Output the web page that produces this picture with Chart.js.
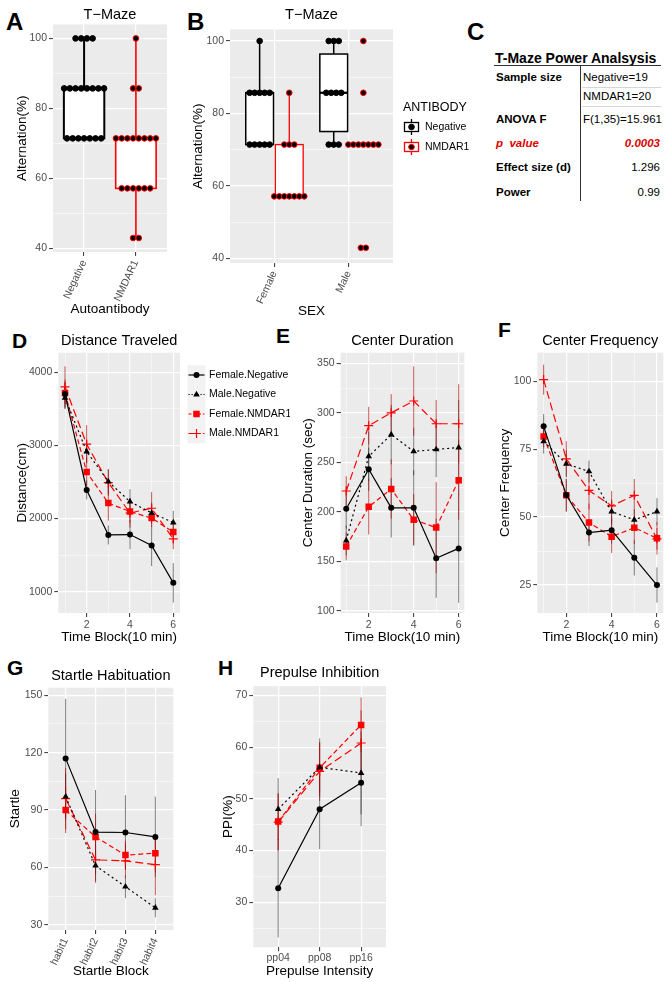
<!DOCTYPE html>
<html>
<head>
<meta charset="utf-8">
<title>Behaviour panels</title>
<script src="https://cdn.jsdelivr.net/npm/chart.js"></script>
<style>
  body { margin: 0; background: #fff; width: 670px; height: 982px; position: relative; overflow: hidden;
         font-family: "Liberation Sans", Arial, sans-serif; }
  canvas { position: absolute; }
  .letter { position: absolute; font-weight: bold; line-height: 1; color: #000; }
  .tc { position: absolute; white-space: nowrap; line-height: 1; color: #000; }
  .b { font-weight: bold; }
  .red { color: #e00000; font-style: italic; font-weight: bold; }
  .ln { position: absolute; background: #333; }
</style>
</head>
<body>
<div class="letter" style="left:6px;top:10px;font-size:24px">A</div>
<div class="letter" style="left:187px;top:10px;font-size:24px">B</div>
<div class="letter" style="left:467px;top:20px;font-size:24px">C</div>
<div class="letter" style="left:12px;top:330px;font-size:21px">D</div>
<div class="letter" style="left:276px;top:325px;font-size:21px">E</div>
<div class="letter" style="left:498px;top:319px;font-size:21px">F</div>
<div class="letter" style="left:7px;top:657px;font-size:21px">G</div>
<div class="letter" style="left:218px;top:657px;font-size:21px">H</div>

<canvas id="cA" width="175" height="320" style="left:0;top:0"></canvas>
<canvas id="cB" width="300" height="320" style="left:180px;top:0"></canvas>
<canvas id="cD" width="290" height="323" style="left:0;top:325px"></canvas>
<canvas id="cE" width="180" height="323" style="left:290px;top:325px"></canvas>
<canvas id="cF" width="200" height="323" style="left:470px;top:325px"></canvas>
<canvas id="cG" width="200" height="332" style="left:0;top:650px"></canvas>
<canvas id="cH" width="200" height="332" style="left:205px;top:650px"></canvas>

<div id="tableC"></div>

<script>
// ---------- DATA ----------

// T-Maze alternation (%), one value per animal
const antibodyCats = ['Negative', 'NMDAR1'];
const aNegVals = [100, 100, 100, 100,
    85.7, 85.7, 85.7, 85.7, 85.7, 85.7, 85.7, 85.7,
    71.4, 71.4, 71.4, 71.4, 71.4, 71.4, 71.4];
const aNmdaVals = [100, 85.7, 85.7,
    71.4, 71.4, 71.4, 71.4, 71.4, 71.4, 71.4, 71.4,
    57.1, 57.1, 57.1, 57.1, 57.1, 57.1, 42.9, 42.9];
// box stats: [lower whisker, q1, median, q3, upper whisker]
const aNegBox = [71.4, 71.4, 85.7, 85.7, 100];
const aNmdaBox = [42.9, 57.1, 71.4, 71.4, 100];

const sexCats = ['Female', 'Male'];
const bFemNegVals = [100, 85.7, 85.7, 85.7, 85.7, 85.7, 71.4, 71.4, 71.4, 71.4, 71.4];
const bFemNmdaVals = [85.7, 71.4, 71.4, 71.4, 57.1, 57.1, 57.1, 57.1, 57.1, 57.1, 57.1];
const bMaleNegVals = [100, 100, 100, 85.7, 85.7, 85.7, 85.7, 71.4, 71.4, 71.4];
const bMaleNmdaVals = [100, 85.7, 71.4, 71.4, 71.4, 71.4, 71.4, 71.4, 71.4, 42.9, 42.9];
const bFemNegBox = [71.4, 71.4, 85.7, 85.7, 100];
const bFemNmdaBox = [57.1, 57.1, 57.1, 71.4, 85.7];
const bMaleNegBox = [71.4, 75.0, 85.7, 96.4, 100];
const bMaleNmdaBox = [71.4, 71.4, 71.4, 71.4, 71.4];

// power analysis table
const powerRows = [
    ['Sample size', 'Negative=19'],
    ['', 'NMDAR1=20'],
    ['ANOVA F', 'F(1,35)=15.961'],
    ['p value', '0.0003'],
    ['Effect size (d)', '1.296'],
    ['Power', '0.99']
];

const groupNames = ['Female.Negative', 'Male.Negative', 'Female.NMDAR1', 'Male.NMDAR1'];
const timeBlocks = [1, 2, 3, 4, 5, 6];

// D: distance traveled (cm), mean and error
const distFemNeg = [3700, 2390, 1775, 1780, 1630, 1120];
const distMaleNeg = [3650, 2915, 2505, 2230, 2075, 1945];
const distFemNmda = [3715, 2635, 2210, 2095, 2005, 1815];
const distMaleNmda = [3800, 3015, 2490, 2075, 2140, 1720];
const distFemNegErr = [200, 130, 130, 200, 280, 270];
const distMaleNegErr = [150, 150, 170, 170, 140, 160];
const distFemNmdaErr = [150, 200, 240, 150, 120, 150];
const distMaleNmdaErr = [280, 260, 180, 200, 220, 140];

// E: center duration (sec)
const durFemNeg = [203, 243, 204, 204, 153, 163];
const durMaleNeg = [171, 256, 278, 261, 263, 265];
const durFemNmda = [165, 205, 223, 192, 184, 232];
const durMaleNmda = [221, 287, 300, 312, 289, 289];
const durFemNegErr = [20, 22, 30, 38, 40, 55];
const durMaleNegErr = [15, 25, 30, 24, 28, 48];
const durFemNmdaErr = [14, 28, 30, 26, 46, 40];
const durMaleNmdaErr = [15, 19, 19, 35, 24, 40];

// F: center frequency
const freqFemNeg = [83.4, 58.1, 44.3, 45.2, 35, 25];
const freqMaleNeg = [77.9, 69.6, 66.8, 52, 49, 52];
const freqFemNmda = [79.7, 58, 48, 42.8, 46.1, 42.2];
const freqMaleNmda = [100.6, 71.4, 59.8, 54.1, 58, 42];
const freqFemNegErr = [4.5, 6, 5, 5, 6.5, 6.5];
const freqMaleNegErr = [4.5, 5, 4, 4.5, 4, 5];
const freqFemNmdaErr = [4, 6, 7, 6, 6, 6];
const freqMaleNmdaErr = [5.5, 6.5, 7, 5.5, 6, 4];

// G: startle habituation
const habitLabels = ['habit1', 'habit2', 'habit3', 'habit4'];
const startFemNeg = [117, 78.5, 78.3, 76];
const startMaleNeg = [97, 61, 50, 39];
const startFemNmda = [90, 76, 66.5, 67.5];
const startMaleNmda = [96, 64, 63.5, 61.5];
const startFemNegErr = [31, 22, 19.5, 21];
const startMaleNegErr = [12, 8, 6, 5];
const startFemNmdaErr = [12, 12, 7.5, 10];
const startMaleNmdaErr = [16, 12, 9, 16];

// H: prepulse inhibition (%)
const ppLabels = ['pp04', 'pp08', 'pp16'];
const ppiFemNeg = [32.7, 48, 53.1];
const ppiMaleNeg = [48, 56.1, 55];
const ppiFemNmda = [45.6, 56, 64.3];
const ppiMaleNmda = [45.5, 55.3, 60.8];
const ppiFemNegErr = [9.5, 7.7, 8.4];
const ppiMaleNegErr = [6, 5.6, 8];
const ppiFemNmdaErr = [5.5, 4.8, 5.3];
const ppiMaleNmdaErr = [5.5, 5.7, 6.3];

// ---------- STYLE ----------

const FONT = '"Liberation Sans", Arial, sans-serif';
const RED = '#ff0000';
const groupStyle = [
    { color: '#000', dash: [], point: 'circle', r: 3, err: 'rgba(0,0,0,0.5)' },
    { color: '#000', dash: [2, 3], point: 'triangle', r: 3.8, err: 'rgba(0,0,0,0.5)' },
    { color: RED, dash: [5, 3], point: 'rect', r: 4.6, err: 'rgba(175,0,0,0.65)' },
    { color: RED, dash: [8, 4], point: 'cross', r: 4.5, err: 'rgba(175,0,0,0.65)' }
];

// ---------- HELPERS ----------

function makeAxis(o) {
    const ax = {
        type: 'linear',
        min: o.min,
        max: o.max,
        bounds: 'data',
        afterBuildTicks: s => {
            const majors = o.majors.map(v => ({ value: v }));
            const minors = (o.minors || []).map(v => ({ value: v, minor: true }));
            s.ticks = majors.concat(minors).sort((a, b) => a.value - b.value);
        },
        ticks: {
            autoSkip: false,
            color: '#4d4d4d',
            font: { family: FONT, size: 10.5 },
            padding: o.tickPad != null ? o.tickPad : 2,
            minRotation: o.rotation || 0,
            maxRotation: o.rotation || 0,
            callback: function (v, i, ticks) {
                if (ticks[i].minor) return '';
                return o.labels ? o.labels[Math.round(v) - 1] : v;
            }
        },
        grid: {
            color: '#fff',
            lineWidth: c => (c.tick && c.tick.minor ? 0.5 : 1.2),
            tickColor: c => (c.tick && c.tick.minor ? 'rgba(0,0,0,0)' : '#333'),
            tickLength: 4,
            tickWidth: 1
        },
        border: { display: false },
        title: {
            display: true,
            text: o.title,
            color: '#000',
            font: { family: FONT, size: 13.5 },
            padding: o.titlePad
        }
    };
    if (o.width != null) ax.afterFit = s => { s.width = o.width; };
    if (o.height != null) ax.afterFit = s => { s.height = o.height; };
    return ax;
}

function makeTitle(text, top, bottom) {
    return {
        display: true,
        text: text,
        color: '#000',
        fullSize: false,
        font: { family: FONT, size: 14.5, weight: 'normal' },
        padding: { top: top, bottom: bottom }
    };
}

// grey ggplot panel behind the grid
const panelBg = {
    id: 'panelBg',
    beforeDraw(chart) {
        const { ctx, chartArea: a } = chart;
        ctx.save();
        ctx.fillStyle = '#ebebeb';
        ctx.fillRect(a.left, a.top, a.right - a.left, a.bottom - a.top);
        ctx.restore();
    }
};

// vertical error bars from dataset.errors
const errorBars = {
    id: 'errorBars',
    beforeDatasetsDraw(chart) {
        const { ctx, scales: { x, y } } = chart;
        ctx.save();
        ctx.lineWidth = 1;
        chart.data.datasets.forEach(ds => {
            if (!ds.errors) return;
            ctx.strokeStyle = ds.errColor;
            ds.data.forEach((p, i) => {
                const px = x.getPixelForValue(p.x);
                ctx.beginPath();
                ctx.moveTo(px, y.getPixelForValue(p.y - ds.errors[i]));
                ctx.lineTo(px, y.getPixelForValue(p.y + ds.errors[i]));
                ctx.stroke();
            });
        });
        ctx.restore();
    }
};

function makeBoxPlugin(items) {
    return {
        id: 'boxes',
        beforeDatasetsDraw(chart) {
            const { ctx, scales: { x, y } } = chart;
            items.forEach(b => {
                const [lo, q1, med, q3, hi] = b.stats;
                const xc = x.getPixelForValue(b.x);
                const xl = x.getPixelForValue(b.x - b.w / 2);
                const xr = x.getPixelForValue(b.x + b.w / 2);
                const top = y.getPixelForValue(q3);
                const bot = y.getPixelForValue(q1);
                ctx.save();
                ctx.strokeStyle = b.color;
                ctx.lineWidth = b.lw;
                ctx.beginPath();
                ctx.moveTo(xc, y.getPixelForValue(hi));
                ctx.lineTo(xc, top);
                ctx.moveTo(xc, bot);
                ctx.lineTo(xc, y.getPixelForValue(lo));
                ctx.stroke();
                ctx.fillStyle = '#fff';
                ctx.fillRect(xl, top, xr - xl, bot - top);
                ctx.strokeRect(xl, top, xr - xl, bot - top);
                ctx.lineWidth = b.lw * 1.5;
                ctx.beginPath();
                ctx.moveTo(xl, y.getPixelForValue(med));
                ctx.lineTo(xr, y.getPixelForValue(med));
                ctx.stroke();
                ctx.restore();
            });
        }
    };
}

// dot plot: equal values side by side, centred on the group position
function dotRows(values, center, spacing) {
    const counts = {};
    values.forEach(v => { counts[v] = (counts[v] || 0) + 1; });
    const seen = {};
    return values.map(v => {
        const k = seen[v] = (seen[v] || 0) + 1;
        return { x: center + (k - 1 - (counts[v] - 1) / 2) * spacing, y: v };
    });
}

function drawMarker(ctx, style, x, y, r, color) {
    ctx.save();
    ctx.fillStyle = color;
    ctx.strokeStyle = color;
    ctx.lineWidth = 1.2;
    ctx.beginPath();
    if (style === 'circle') {
        ctx.arc(x, y, r, 0, Math.PI * 2);
        ctx.fill();
    } else if (style === 'triangle') {
        ctx.moveTo(x, y - r);
        ctx.lineTo(x + r * 0.866, y + r / 2);
        ctx.lineTo(x - r * 0.866, y + r / 2);
        ctx.closePath();
        ctx.fill();
    } else if (style === 'rect') {
        const s = r * Math.SQRT1_2;
        ctx.fillRect(x - s, y - s, 2 * s, 2 * s);
    } else {
        ctx.moveTo(x - r, y); ctx.lineTo(x + r, y);
        ctx.moveTo(x, y - r); ctx.lineTo(x, y + r);
        ctx.stroke();
    }
    ctx.restore();
}

function dotDataset(points, edge) {
    return {
        data: points,
        pointRadius: 2.8,
        pointBackgroundColor: '#000',
        pointBorderColor: edge,
        pointBorderWidth: 1
    };
}

function seriesDatasets(xs, series, errs) {
    return series.map((ys, g) => ({
        label: groupNames[g],
        data: xs.map((x, i) => ({ x: x, y: ys[i] })),
        errors: errs[g],
        errColor: groupStyle[g].err,
        borderColor: groupStyle[g].color,
        borderWidth: 1.2,
        borderDash: groupStyle[g].dash,
        pointStyle: groupStyle[g].point,
        pointRadius: groupStyle[g].r,
        pointBackgroundColor: groupStyle[g].color,
        pointBorderColor: groupStyle[g].color,
        pointBorderWidth: groupStyle[g].point === 'cross' ? 1.2 : 0,
        fill: false,
        tension: 0
    }));
}

function baseOptions(pad, title, xAxis, yAxis) {
    return {
        responsive: false,
        animation: false,
        layout: { padding: pad },
        plugins: { legend: { display: false }, tooltip: { enabled: false }, title: title },
        scales: { x: xAxis, y: yAxis }
    };
}

// ---------- A: T-Maze by antibody ----------

new Chart(document.getElementById('cA'), {
    type: 'scatter',
    data: {
        datasets: [
            dotDataset(dotRows(aNegVals, 1, 0.11), '#000'),
            dotDataset(dotRows(aNmdaVals, 2, 0.11), RED)
        ]
    },
    options: baseOptions(
        { left: 0, right: 8, top: 0, bottom: 0 },
        makeTitle('T\u2212Maze', 6, 1),
        makeAxis({ min: 0.4, max: 2.6, majors: [1, 2], labels: antibodyCats, rotation: 65,
                   height: 68, title: 'Autoantibody', titlePad: { top: 0, bottom: 2.2 } }),
        makeAxis({ min: 38.9, max: 104, majors: [40, 60, 80, 100], minors: [50, 70, 90],
                   width: 53, title: 'Alternation(%)', titlePad: { top: 13.9, bottom: 0 } })
    ),
    plugins: [panelBg, makeBoxPlugin([
        { x: 1, w: 0.78, stats: aNegBox, color: '#000', lw: 2 },
        { x: 2, w: 0.78, stats: aNmdaBox, color: RED, lw: 1.6 }
    ])]
});

// ---------- B: T-Maze by sex ----------

const antibodyLegend = {
    id: 'antibodyLegend',
    afterDraw(chart) {
        const ctx = chart.ctx;
        ctx.save();
        ctx.fillStyle = '#000';
        ctx.textBaseline = 'middle';
        ctx.font = '12.5px ' + FONT;
        ctx.fillText('ANTIBODY', 223, 108);
        ctx.font = '10.5px ' + FONT;
        [['Negative', '#000', 127], ['NMDAR1', RED, 147]].forEach(([lab, col, yc]) => {
            const xc = 231.5;
            ctx.strokeStyle = col;
            ctx.lineWidth = 1.3;
            ctx.beginPath();
            ctx.moveTo(xc, yc - 8);
            ctx.lineTo(xc, yc + 8);
            ctx.stroke();
            ctx.fillStyle = '#fff';
            ctx.fillRect(xc - 7, yc - 4.5, 14, 9);
            ctx.strokeRect(xc - 7, yc - 4.5, 14, 9);
            ctx.beginPath();
            ctx.arc(xc, yc, 2.8, 0, Math.PI * 2);
            ctx.fillStyle = '#000';
            ctx.fill();
            ctx.lineWidth = 1;
            ctx.stroke();
            ctx.fillStyle = '#000';
            ctx.fillText(lab, 245, yc);
        });
        ctx.restore();
    }
};

new Chart(document.getElementById('cB'), {
    type: 'scatter',
    data: {
        datasets: [
            dotDataset(dotRows(bFemNegVals, 0.8, 0.0676), '#000'),
            dotDataset(dotRows(bFemNmdaVals, 1.2, 0.0676), RED),
            dotDataset(dotRows(bMaleNegVals, 1.8, 0.0676), '#000'),
            dotDataset(dotRows(bMaleNmdaVals, 2.2, 0.0676), RED)
        ]
    },
    options: baseOptions(
        { left: 0, right: 87, top: 0, bottom: 0 },
        makeTitle('T\u2212Maze', 6, 6),
        makeAxis({ min: 0.4, max: 2.6, majors: [1, 2], labels: sexCats, rotation: 65,
                   height: 57, title: 'SEX', titlePad: { top: 0, bottom: 0.5 } }),
        makeAxis({ min: 38.7, max: 103.2, majors: [40, 60, 80, 100], minors: [50, 70, 90],
                   width: 50, title: 'Alternation(%)', titlePad: { top: 10.2, bottom: 0 } })
    ),
    plugins: [panelBg, antibodyLegend, makeBoxPlugin([
        { x: 0.8, w: 0.375, stats: bFemNegBox, color: '#000', lw: 1.5 },
        { x: 1.2, w: 0.375, stats: bFemNmdaBox, color: RED, lw: 1.3 },
        { x: 1.8, w: 0.375, stats: bMaleNegBox, color: '#000', lw: 1.5 },
        { x: 2.2, w: 0.375, stats: bMaleNmdaBox, color: RED, lw: 1.3 }
    ])]
});

// ---------- C: power analysis table ----------

(function buildTable() {
    const box = document.getElementById('tableC');
    const rowY = [78, 97, 120, 144, 168, 193];
    let html = '<div class="tc b" style="left:495px;top:51px;font-size:14px">T-Maze Power Analsysis</div>';
    html += '<div class="ln" style="left:494px;top:65px;width:167px;height:1px"></div>';
    html += '<div class="ln" style="left:580px;top:65px;width:1px;height:136px"></div>';
    html += '<div class="ln" style="left:582px;top:87px;width:79px;height:1px;background:#d6d6d6"></div>';
    html += '<div class="ln" style="left:582px;top:106px;width:79px;height:1px;background:#d6d6d6"></div>';
    powerRows.forEach(([lab, val], i) => {
        const top = rowY[i] - 6;
        const isP = lab === 'p value';
        if (lab) {
            const labHtml = isP ? '<i>p</i>&nbsp; value' : lab;
            html += '<div class="tc ' + (isP ? 'red' : 'b') + '" style="left:496px;top:' + top +
                'px;font-size:11.5px">' + labHtml + '</div>';
        }
        const rightAlign = i >= 3;
        const pos = rightAlign ? 'right:' + (670 - 660) + 'px' : 'left:583px';
        html += '<div class="tc' + (isP ? ' red' : '') + '" style="' + pos + ';top:' + top +
            'px;font-size:11.5px">' + val + '</div>';
    });
    box.innerHTML = html;
})();

// ---------- D: distance traveled ----------

const groupLegend = {
    id: 'groupLegend',
    afterDraw(chart) {
        const ctx = chart.ctx;
        ctx.save();
        ctx.font = '10.5px ' + FONT;
        ctx.textBaseline = 'middle';
        groupNames.forEach((name, g) => {
            const yc = 50 + g * 19.5;
            ctx.fillStyle = '#f2f2f2';
            ctx.fillRect(187.5, yc - 9.75, 18, 19.5);
            const st = groupStyle[g];
            ctx.strokeStyle = st.color;
            ctx.lineWidth = 1.2;
            ctx.setLineDash(st.dash.map(d => d * 0.6));
            ctx.beginPath();
            ctx.moveTo(188.5, yc);
            ctx.lineTo(204.5, yc);
            ctx.stroke();
            ctx.setLineDash([]);
            drawMarker(ctx, st.point, 196.5, yc, st.r, st.color);
            ctx.fillStyle = '#000';
            ctx.fillText(name, 209, yc);
        });
        ctx.restore();
    }
};

new Chart(document.getElementById('cD'), {
    type: 'line',
    data: {
        datasets: seriesDatasets(timeBlocks,
            [distFemNeg, distMaleNeg, distFemNmda, distMaleNmda],
            [distFemNegErr, distMaleNegErr, distFemNmdaErr, distMaleNmdaErr])
    },
    options: baseOptions(
        { left: 0, right: 110, top: 0, bottom: 0 },
        makeTitle('Distance Traveled', 7.7, 2.6),
        makeAxis({ min: 0.69, max: 6.31, majors: [2, 4, 6], minors: [1, 3, 5],
                   height: 35, title: 'Time Block(10 min)', titlePad: { top: 0, bottom: 2.2 } }),
        makeAxis({ min: 708, max: 4266, majors: [1000, 2000, 3000, 4000], minors: [1500, 2500, 3500],
                   width: 58.3, title: 'Distance(cm)', titlePad: { top: 13.9, bottom: 0 } })
    ),
    plugins: [panelBg, errorBars, groupLegend]
});

// ---------- E: center duration ----------

new Chart(document.getElementById('cE'), {
    type: 'line',
    data: {
        datasets: seriesDatasets(timeBlocks,
            [durFemNeg, durMaleNeg, durFemNmda, durMaleNmda],
            [durFemNegErr, durMaleNegErr, durFemNmdaErr, durMaleNmdaErr])
    },
    options: baseOptions(
        { left: 0, right: 4.5, top: 0, bottom: 0 },
        makeTitle('Center Duration', 7.7, 2.6),
        makeAxis({ min: 0.75, max: 6.25, majors: [2, 4, 6], minors: [1, 3, 5],
                   height: 35, title: 'Time Block(10 min)', titlePad: { top: 0, bottom: 2.2 } }),
        makeAxis({ min: 97.7, max: 360.8, majors: [100, 150, 200, 250, 300, 350],
                   minors: [125, 175, 225, 275, 325],
                   width: 50.6, title: 'Center Duration (sec)', titlePad: { top: 9.9, bottom: 0 } })
    ),
    plugins: [panelBg, errorBars]
});

// ---------- F: center frequency ----------

new Chart(document.getElementById('cF'), {
    type: 'line',
    data: {
        datasets: seriesDatasets(timeBlocks,
            [freqFemNeg, freqMaleNeg, freqFemNmda, freqMaleNmda],
            [freqFemNegErr, freqMaleNegErr, freqFemNmdaErr, freqMaleNmdaErr])
    },
    options: baseOptions(
        { left: 0, right: 6.7, top: 0, bottom: 0 },
        makeTitle('Center Frequency', 7.7, 2.6),
        makeAxis({ min: 0.72, max: 6.28, majors: [2, 4, 6], minors: [1, 3, 5],
                   height: 35, title: 'Time Block(10 min)', titlePad: { top: 0, bottom: 2.2 } }),
        makeAxis({ min: 14.7, max: 110.5, majors: [25, 50, 75, 100], minors: [37.5, 62.5, 87.5],
                   width: 67.3, title: 'Center Frequency', titlePad: { top: 27.2, bottom: 0 } })
    ),
    plugins: [panelBg, errorBars]
});

// ---------- G: startle habituation ----------

new Chart(document.getElementById('cG'), {
    type: 'line',
    data: {
        datasets: seriesDatasets([1, 2, 3, 4],
            [startFemNeg, startMaleNeg, startFemNmda, startMaleNmda],
            [startFemNegErr, startMaleNegErr, startFemNmdaErr, startMaleNmdaErr])
    },
    options: baseOptions(
        { left: 0, right: 26.7, top: 0, bottom: 0 },
        makeTitle('Startle Habituation', 17, 3.3),
        makeAxis({ min: 0.42, max: 4.6, majors: [1, 2, 3, 4], labels: habitLabels, rotation: 65,
                   height: 52, title: 'Startle Block', titlePad: { top: 0, bottom: 2.5 } }),
        makeAxis({ min: 27.4, max: 153.9, majors: [30, 60, 90, 120, 150], minors: [45, 75, 105, 135],
                   width: 48.3, title: 'Startle', titlePad: { top: 7.2, bottom: 0 } })
    ),
    plugins: [panelBg, errorBars]
});

// ---------- H: prepulse inhibition ----------

new Chart(document.getElementById('cH'), {
    type: 'line',
    data: {
        datasets: seriesDatasets([1, 2, 3],
            [ppiFemNeg, ppiMaleNeg, ppiFemNmda, ppiMaleNmda],
            [ppiFemNegErr, ppiMaleNegErr, ppiFemNmdaErr, ppiMaleNmdaErr])
    },
    options: baseOptions(
        { left: 0, right: 19, top: 0, bottom: 0 },
        makeTitle('Prepulse Inhibition', 14.3, 4.4),
        makeAxis({ min: 0.4, max: 3.6, majors: [1, 2, 3], labels: ppLabels, tickPad: 1,
                   height: 34.7, title: 'Prepulse Intensity', titlePad: { top: 0, bottom: 2.5 } }),
        makeAxis({ min: 21.3, max: 71.8, majors: [30, 40, 50, 60, 70], minors: [25, 35, 45, 55, 65],
                   width: 48.3, title: 'PPI(%)', titlePad: { top: 15.5, bottom: 0 } })
    ),
    plugins: [panelBg, errorBars]
});
</script>
</body>
</html>
